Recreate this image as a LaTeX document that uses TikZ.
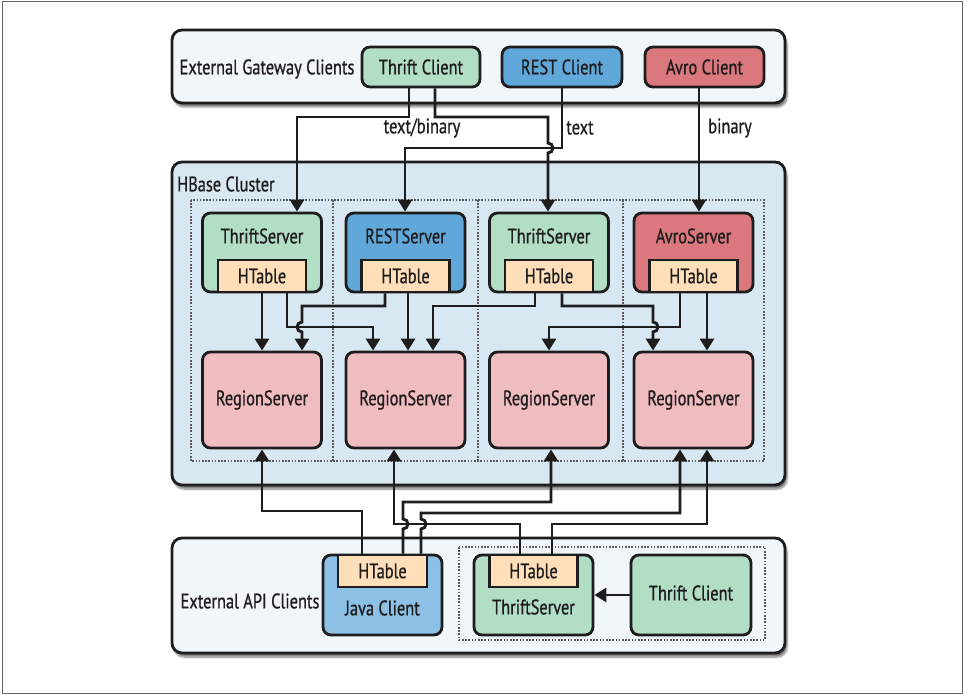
\documentclass[tikz,border=0pt]{standalone}
\usepackage{fontspec}
\setmainfont[FakeStretch=0.78,FakeBold=0.7]{PT Sans}
\usetikzlibrary{arrows.meta,shadows.blur}
\definecolor{panellight}{HTML}{F1F6FB}
\definecolor{clusterblue}{HTML}{D8E8F3}
\definecolor{thriftgreen}{HTML}{B2DEC5}
\definecolor{restblue}{HTML}{5FA8D9}
\definecolor{avrored}{HTML}{DB787D}
\definecolor{htablefill}{HTML}{FFDFBA}
\definecolor{regionfill}{HTML}{EFBCC0}
\definecolor{javablue}{HTML}{8CC0E4}
\definecolor{inkcol}{HTML}{1E1C1D}
\begin{document}
\begin{tikzpicture}[x=1pt,y=-1pt,
  every node/.style={font=\fontsize{21}{24}\selectfont, text=inkcol},
  panel/.style={draw=inkcol, line width=2.8pt, rounded corners=10pt, inner sep=0pt,
    blur shadow={shadow xshift=2pt, shadow yshift=-4pt, shadow blur steps=6, shadow opacity=55}},
  box/.style={draw=inkcol, line width=2.8pt, rounded corners=8pt, inner sep=0pt, minimum width=119pt},
  srvbox/.style={box, minimum height=79pt},
  rsbox/.style={box, fill=regionfill, minimum height=96pt},
  clbox/.style={box, minimum height=40pt},
  htbox/.style={draw=inkcol, line width=2.8pt, fill=htablefill, inner sep=0pt, minimum width=88pt, minimum height=32pt},
  grp/.style={draw=black!65, line width=1.3pt, dash pattern=on 1.6pt off 1.6pt},
  conn/.style={draw=inkcol, line width=2.9pt, -{Triangle[width=14pt,length=12pt]}},
  txt/.style={inner sep=0pt}
]
\useasboundingbox (0,0) rectangle (964,695);
\draw[black!60, line width=1pt] (2,2) rectangle (962,693);

% ---------- panels ----------
\node[panel, fill=panellight, minimum width=613pt, minimum height=73pt] (gw) at (478.5,66.5) {};
\node[panel, fill=clusterblue, minimum width=613pt, minimum height=323pt] (cl) at (478.5,323.5) {};
\node[panel, fill=panellight, minimum width=613pt, minimum height=115pt] (api) at (478.5,595.5) {};

\node[txt] (gwl) at (267,69) {External Gateway Clients};
\node[txt, anchor=west] (cll) at (177,184) {HBase Cluster};
\node[txt] (apil) at (250,601) {External API Clients};

% ---------- gateway clients ----------
\node[clbox, fill=thriftgreen, minimum width=118pt] (tc) at (421,67) {Thrift Client};
\node[clbox, fill=restblue, minimum width=120pt] (rc) at (562,67) {REST Client};
\node[clbox, fill=avrored, minimum width=119pt] (ac) at (704.5,67) {Avro Client};

% ---------- cluster ----------
\draw[grp] (191,200) rectangle (764,461);
\draw[grp] (333,200) -- (333,461);
\draw[grp] (478,200) -- (478,461);
\draw[grp] (623,200) -- (623,461);

\node[srvbox, fill=thriftgreen] (ts1) at (262,252.5) {};
\node[srvbox, fill=restblue] (rs) at (405.5,252.5) {};
\node[srvbox, fill=thriftgreen] (ts3) at (549,252.5) {};
\node[srvbox, fill=avrored] (av) at (693.5,252.5) {};
\node[txt] (ts1l) at (262,236) {ThriftServer};
\node[txt] (rsl) at (405.5,236) {RESTServer};
\node[txt] (ts3l) at (549,236) {ThriftServer};
\node[txt] (avl) at (693.5,236) {AvroServer};
\node[htbox, anchor=south] (ht1) at (ts1.south) {HTable};
\node[htbox, anchor=south] (ht2) at (rs.south) {HTable};
\node[htbox, anchor=south] (ht3) at (ts3.south) {HTable};
\node[htbox, anchor=south] (ht4) at (av.south) {HTable};

\node[rsbox] (r1) at (262,400) {RegionServer};
\node[rsbox] (r2) at (405.5,400) {RegionServer};
\node[rsbox] (r3) at (549,400) {RegionServer};
\node[rsbox] (r4) at (693.5,400) {RegionServer};

% ---------- API clients ----------
\draw[grp] (459,547) rectangle (765,640);
\node[box, fill=javablue, minimum height=80pt] (jc) at (382.5,595) {};
\node[txt] (jcl) at (382.5,608) {Java Client};
\node[htbox, anchor=north, minimum width=89pt] (hj) at (jc.north) {HTable};
\node[box, fill=thriftgreen, minimum height=80pt] (ts2) at (533.5,595) {};
\node[txt] (ts2l) at (533.5,607) {ThriftServer};
\node[htbox, anchor=north] (hb) at (ts2.north) {HTable};
\node[box, fill=thriftgreen, minimum width=120pt, minimum height=80pt] (tc2) at (691,595) {};
\node[txt] (tc2l) at (691,593) {Thrift Client};

% ---------- gateway connectors ----------
\draw[conn] (409,0 |- tc.south) -- (409,117) -- (297,117) -- (297,0 |- ts1.north);
\draw[conn] (435,0 |- tc.south) -- (435,117) -- (548,117) -- (548,143)
   arc[start angle=270, end angle=450, radius=5] -- (548,0 |- ts3.north);
\draw[conn] (rc.south) -- (562,148) -- (405,148) -- (405,0 |- rs.north);
\draw[conn] (699,0 |- ac.south) -- (699,0 |- av.north);
\node[txt] (lb1) at (422,128) {text/binary};
\node[txt] (lb2) at (580,128) {text};
\node[txt] (lb3) at (730,128) {binary};

% ---------- cluster connectors ----------
\draw[conn] (262,0 |- ht1.south) -- (262,0 |- r1.north);
\draw[conn] (287,0 |- ht1.south) -- (287,327) -- (373,327) -- (373,0 |- r2.north);
\draw[conn] (385,0 |- ht2.south) -- (385,306) -- (302,306) -- (302,322)
   arc[start angle=270, end angle=90, radius=5] -- (302,0 |- r1.north);
\draw[conn] (408,0 |- ht2.south) -- (408,0 |- r2.north);
\draw[conn] (535,0 |- ht3.south) -- (535,306) -- (433,306) -- (433,0 |- r2.north);
\draw[conn] (562,0 |- ht3.south) -- (562,306) -- (653,306) -- (653,322)
   arc[start angle=270, end angle=450, radius=5] -- (653,0 |- r4.north);
\draw[conn] (680,0 |- ht4.south) -- (680,327) -- (549,327) -- (549,0 |- r3.north);
\draw[conn] (707,0 |- ht4.south) -- (707,0 |- r4.north);

% ---------- API connectors ----------
\draw[conn] (362,0 |- hj.north) -- (362,511) -- (262,511) -- (262,0 |- r1.south);
\draw[conn] (520,0 |- hb.north) -- (520,524) -- (394,524) -- (394,0 |- r2.south);
\draw[conn] (403,0 |- hj.north) -- (403,529) arc[start angle=90, end angle=-90, radius=5]
   -- (403,502) -- (551,502) -- (551,0 |- r3.south);
\draw[conn] (421,0 |- hj.north) -- (421,529) arc[start angle=90, end angle=-90, radius=5]
   -- (421,513) -- (680,513) -- (680,0 |- r4.south);
\draw[conn] (552,0 |- hb.north) -- (552,524) -- (707,524) -- (707,0 |- r4.south);
\draw[conn] (tc2.west) -- (ts2.east);
\end{tikzpicture}
\end{document}
